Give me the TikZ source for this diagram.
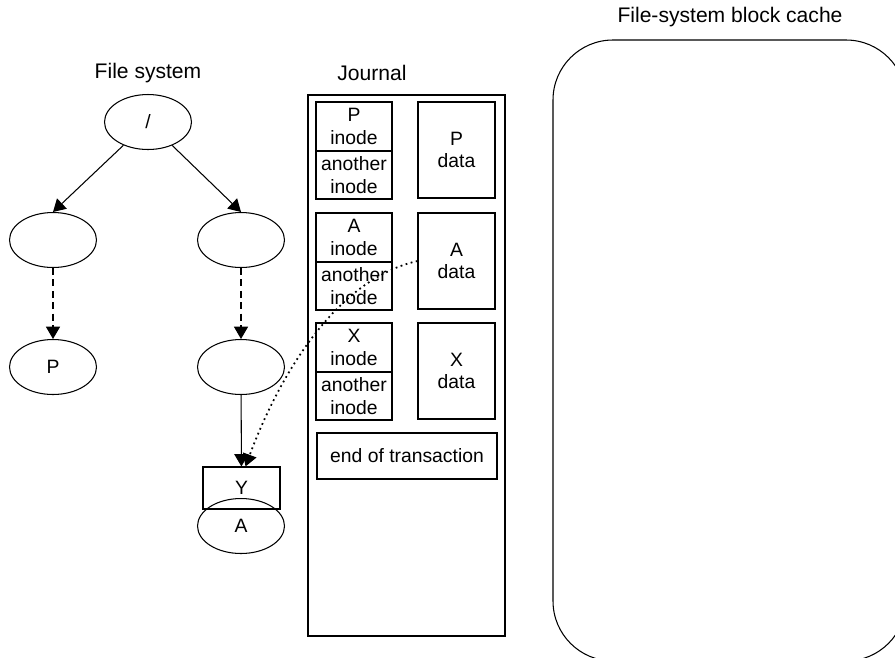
\documentclass[tikz,border=0pt]{standalone}
\usepackage{fontspec}
\setmainfont{Liberation Sans}
\usetikzlibrary{arrows.meta,positioning,shapes}

\tikzset{
  every node/.style={font=\fontsize{11}{13}\selectfont},
  title/.style={font=\fontsize{12}{14}\selectfont},
  dirnode/.style={draw, ellipse, minimum width=1.74cm, minimum height=1.1cm, inner sep=0pt},
  logbox/.style={draw, align=center, inner sep=0pt},
  tip/.style={-{Triangle[length=7pt,width=8pt]}},
}

\begin{document}
\begin{tikzpicture}[x=0.02cm, y=-0.02cm, line width=0.6pt]
    \clip (0,0) rectangle (895,657);

    % Titles
    \node[title] (fstitle) at (148,73) {File system};
    \node[title] (jtitle) at (372,73) {Journal};
    \node[title] (ctitle) at (730,17) {File-system block cache};

    % File system tree
    \node[dirnode] (root) at (148,122) {/};
    \node[dirnode] (lc) at (53,240) {};
    \node[dirnode] (rc) at (241,240) {};
    \node[dirnode] (pnode) at (53,367) {P};
    \node[dirnode] (mid) at (241,367) {};
    \node[logbox, minimum width=1.54cm, minimum height=0.84cm] (ynode) at (241.5,488) {Y};
    \node[dirnode] (anode) at (241,526) {A};

    \draw[tip] (root) -- (lc.north);
    \draw[tip] (root) -- (rc.north);
    \draw[tip, dash pattern=on 4pt off 2.5pt] (lc) -- (pnode);
    \draw[tip, dash pattern=on 4pt off 2.5pt] (rc) -- (mid);
    \draw[tip] (mid) -- (ynode);

    % Journal
    \draw (308,95) rectangle (505,636);
    \foreach \f/\t in {P/102, A/213, X/323} {
        \node[logbox, minimum width=1.52cm, minimum height=0.98cm] (ino\f) at (354,\t+24.5) {\f\\inode};
        \node[logbox, minimum width=1.52cm, minimum height=0.96cm, below=-0.6pt of ino\f] (oth\f) {another\\inode};
        \node[logbox, minimum width=1.54cm, minimum height=1.92cm] (dat\f) at (456.5,\t+48) {\f\\data};
    }
    \node[logbox, minimum width=3.6cm, minimum height=0.92cm] (eot) at (407,456) {end of transaction};

    \draw[tip, dotted, line width=1pt] (datA.west) .. controls (325,282) and (270,400) .. ([xshift=0.08cm]ynode.north);

    % Block cache
    \draw[rounded corners=1.2cm] (553,40) rectangle (906,661);
\end{tikzpicture}
\end{document}
